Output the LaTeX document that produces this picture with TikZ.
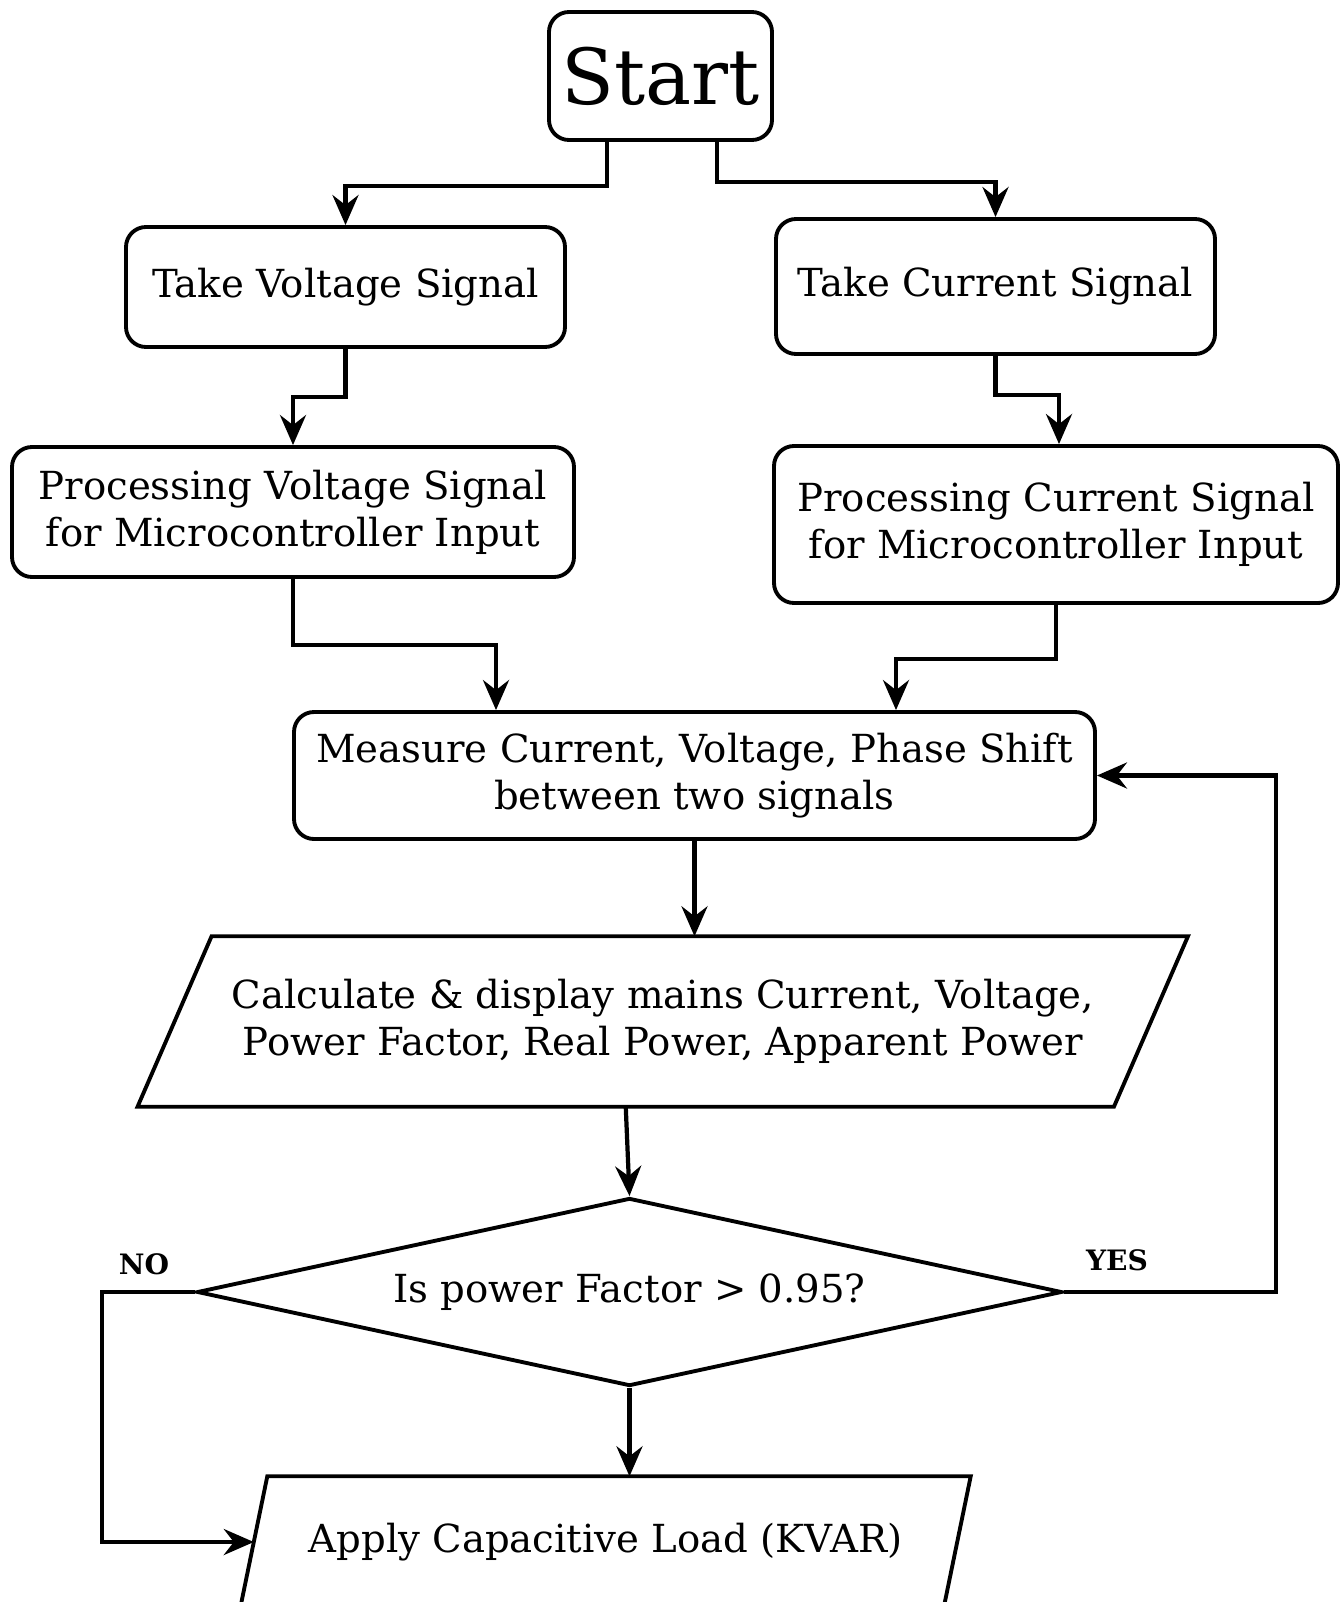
\documentclass[tikz,border=0pt]{standalone}
\usepackage{fontspec}
\setmainfont{DejaVu Serif}
\usetikzlibrary{shapes.geometric}
\usetikzlibrary{arrows.meta}

\begin{document}
\begin{tikzpicture}[
    box/.style = {draw, line width=1.1pt, rounded corners=0.2cm, align=center, inner sep=0pt, font=\fontsize{11}{13.4}\selectfont},
    io/.style = {align=center, inner sep=0pt, font=\fontsize{11}{13.4}\selectfont},
    arr/.style = {line width=1.2pt, -{Stealth[length=3mm, width=2.6mm, inset=1mm]}}
]
    \useasboundingbox (0,0) rectangle (13.4,-16.02);
    \clip (0,0) rectangle (13.4,-16.02);

    \node[box, minimum width=2.23cm, minimum height=1.28cm, font=\fontsize{22}{26}\selectfont] (start) at (6.605,-0.76) {Start};

    \node[box, minimum width=4.39cm, minimum height=1.20cm] (tv) at (3.455,-2.87) {Take Voltage Signal};
    \node[box, minimum width=4.39cm, minimum height=1.35cm] (tc) at (9.955,-2.865) {Take Current Signal};

    \node[box, minimum width=5.62cm, minimum height=1.30cm] (pv) at (2.93,-5.12) {Processing Voltage Signal\\for Microcontroller Input};
    \node[box, minimum width=5.64cm, minimum height=1.57cm] (pc) at (10.56,-5.245) {Processing Current Signal\\for Microcontroller Input};

    \node[box, minimum width=8.01cm, minimum height=1.27cm] (meas) at (6.945,-7.755) {Measure Current, Voltage, Phase Shift\\between two signals};

    % parallelogram drawn round the text node
    \node[io, minimum width=9.75cm, minimum height=1.69cm] (calc) at (6.6275,-10.215) {Calculate \& display mains Current, Voltage,\\Power Factor, Real Power, Apparent Power};
    \draw[line width=1.1pt] ([xshift=3.7mm]calc.north west) -- ([xshift=3.7mm]calc.north east)
        -- ([xshift=-3.7mm]calc.south east) -- ([xshift=-3.7mm]calc.south west) -- cycle;

    \node[draw, diamond, line width=1.1pt, aspect=4.6, minimum width=8.65cm, minimum height=1.88cm, inner sep=0pt, font=\fontsize{11}{13.4}\selectfont] (dec) at (6.295,-12.92) {Is power Factor > 0.95?};

    \node[io, minimum width=7.02cm, minimum height=1.30cm] (apply) at (6.055,-15.42) {Apply Capacitive Load (KVAR)};
    \draw[line width=1.1pt] ([xshift=1.35mm]apply.north west) -- ([xshift=1.35mm]apply.north east)
        -- ([xshift=-1.35mm]apply.south east) -- ([xshift=-1.35mm]apply.south west) -- cycle;

    \node[font=\fontsize{8}{10}\selectfont\bfseries] (nolbl) at ([shift={(-0.51,0.28)}]dec.west) {NO};
    \node[font=\fontsize{8}{10}\selectfont\bfseries] (yeslbl) at ([shift={(0.53,0.32)}]dec.east) {YES};

    % connectors
    \draw[arr] ([xshift=-5.35mm]start.south) -- ++(0,-0.44) -| (tv.north);
    \draw[arr] ([xshift=5.65mm]start.south) -- ++(0,-0.40) -| (tc.north);
    \draw[arr] (tv.south) -- ++(0,-0.48) -| (pv.north);
    \draw[arr] (tc.south) -- ++(0,-0.39) -| ([xshift=0.3mm]pc.north);
    \draw[arr] (pv.south) -- ++(0,-0.66) -| ([xshift=-19.85mm]meas.north);
    \draw[arr] (pc.south) -- ++(0,-0.54) -| ([xshift=20.15mm]meas.north);
    \draw[arr] (meas.south) -- (meas.south |- calc.north);
    \draw[arr] ([xshift=-3.7mm]calc.south) -- (dec.north);
    \draw[arr] (dec.south) -- (dec.south |- apply.north);
    \draw[arr] (dec.west) -- ++(-0.93,0) |- (apply.west);
    \draw[arr] (dec.east) -- ++(2.12,0) |- (meas.east);
\end{tikzpicture}
\end{document}
